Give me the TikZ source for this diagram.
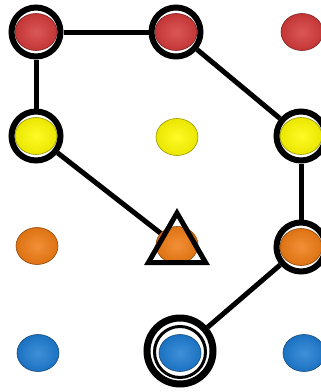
\documentclass[tikz,border=0pt]{standalone}
\usetikzlibrary{shapes.geometric,backgrounds}
\definecolor{cred}{RGB}{212,58,58}
\definecolor{cyel}{RGB}{255,250,0}
\definecolor{cora}{RGB}{240,124,20}
\definecolor{cblu}{RGB}{30,124,210}
\tikzset{
  dot/.style={ellipse, minimum width=42pt, minimum height=37pt, inner sep=0pt,
    inner color=#1!85!white, outer color=#1!92!black, draw=#1!60!black, line width=0.6pt},
  ring/.style={circle, minimum size=49pt, inner sep=0pt, draw=black, line width=6pt},
  inring/.style={circle, minimum size=51pt, inner sep=0pt, draw=black, line width=3pt},
  outring/.style={circle, minimum size=66pt, inner sep=0pt, draw=black, line width=7pt},
  tri/.style={regular polygon, regular polygon sides=3, minimum size=66pt, inner sep=0pt, draw=black, line width=5pt, line join=miter},
  conn/.style={draw=black, line width=5pt}
}
\begin{document}
\begin{tikzpicture}[x=1pt,y=-1pt]
\useasboundingbox (0,0) rectangle (321,392);
\clip (0,0) rectangle (321,392);
% dots
\node[dot=cred] (r1d) at (36,32) {};
\node[dot=cred] (r2d) at (176,32) {};
\node[dot=cred] (r3d) at (302,32) {};
\node[dot=cyel] (y1d) at (36,136) {};
\node[dot=cyel] (y2d) at (177,137) {};
\node[dot=cyel] (y3d) at (301,136) {};
\node[dot=cora] (o1d) at (37,246) {};
\node[dot=cora] (o2d) at (177,245) {};
\node[dot=cora] (o3d) at (301,247) {};
\node[dot=cblu] (b1d) at (38,353) {};
\node[dot=cblu] (b2d) at (180,353) {};
\node[dot=cblu] (b3d) at (304,353) {};
% rings
\node[ring] (r1) at (36,32) {};
\node[ring] (r2) at (176,32) {};
\node[ring] (y1) at (36,136) {};
\node[ring] (y3) at (301,136) {};
\node[ring] (o3) at (301,247) {};
\node[inring] (b2in) at (180,352) {};
\node[outring] (b2) at (180,351) {};
\node[tri] (t) at (177,246) {};
% connectors
\begin{scope}[on background layer]
\draw[conn] (r1) -- (r2);
\draw[conn] (r1) -- (y1);
\draw[conn] (r2) -- (y3);
\draw[conn] (y1) -- (t);
\draw[conn] (y3) -- (o3);
\draw[conn] (o3) -- (b2);
\end{scope}
\end{tikzpicture}
\end{document}
